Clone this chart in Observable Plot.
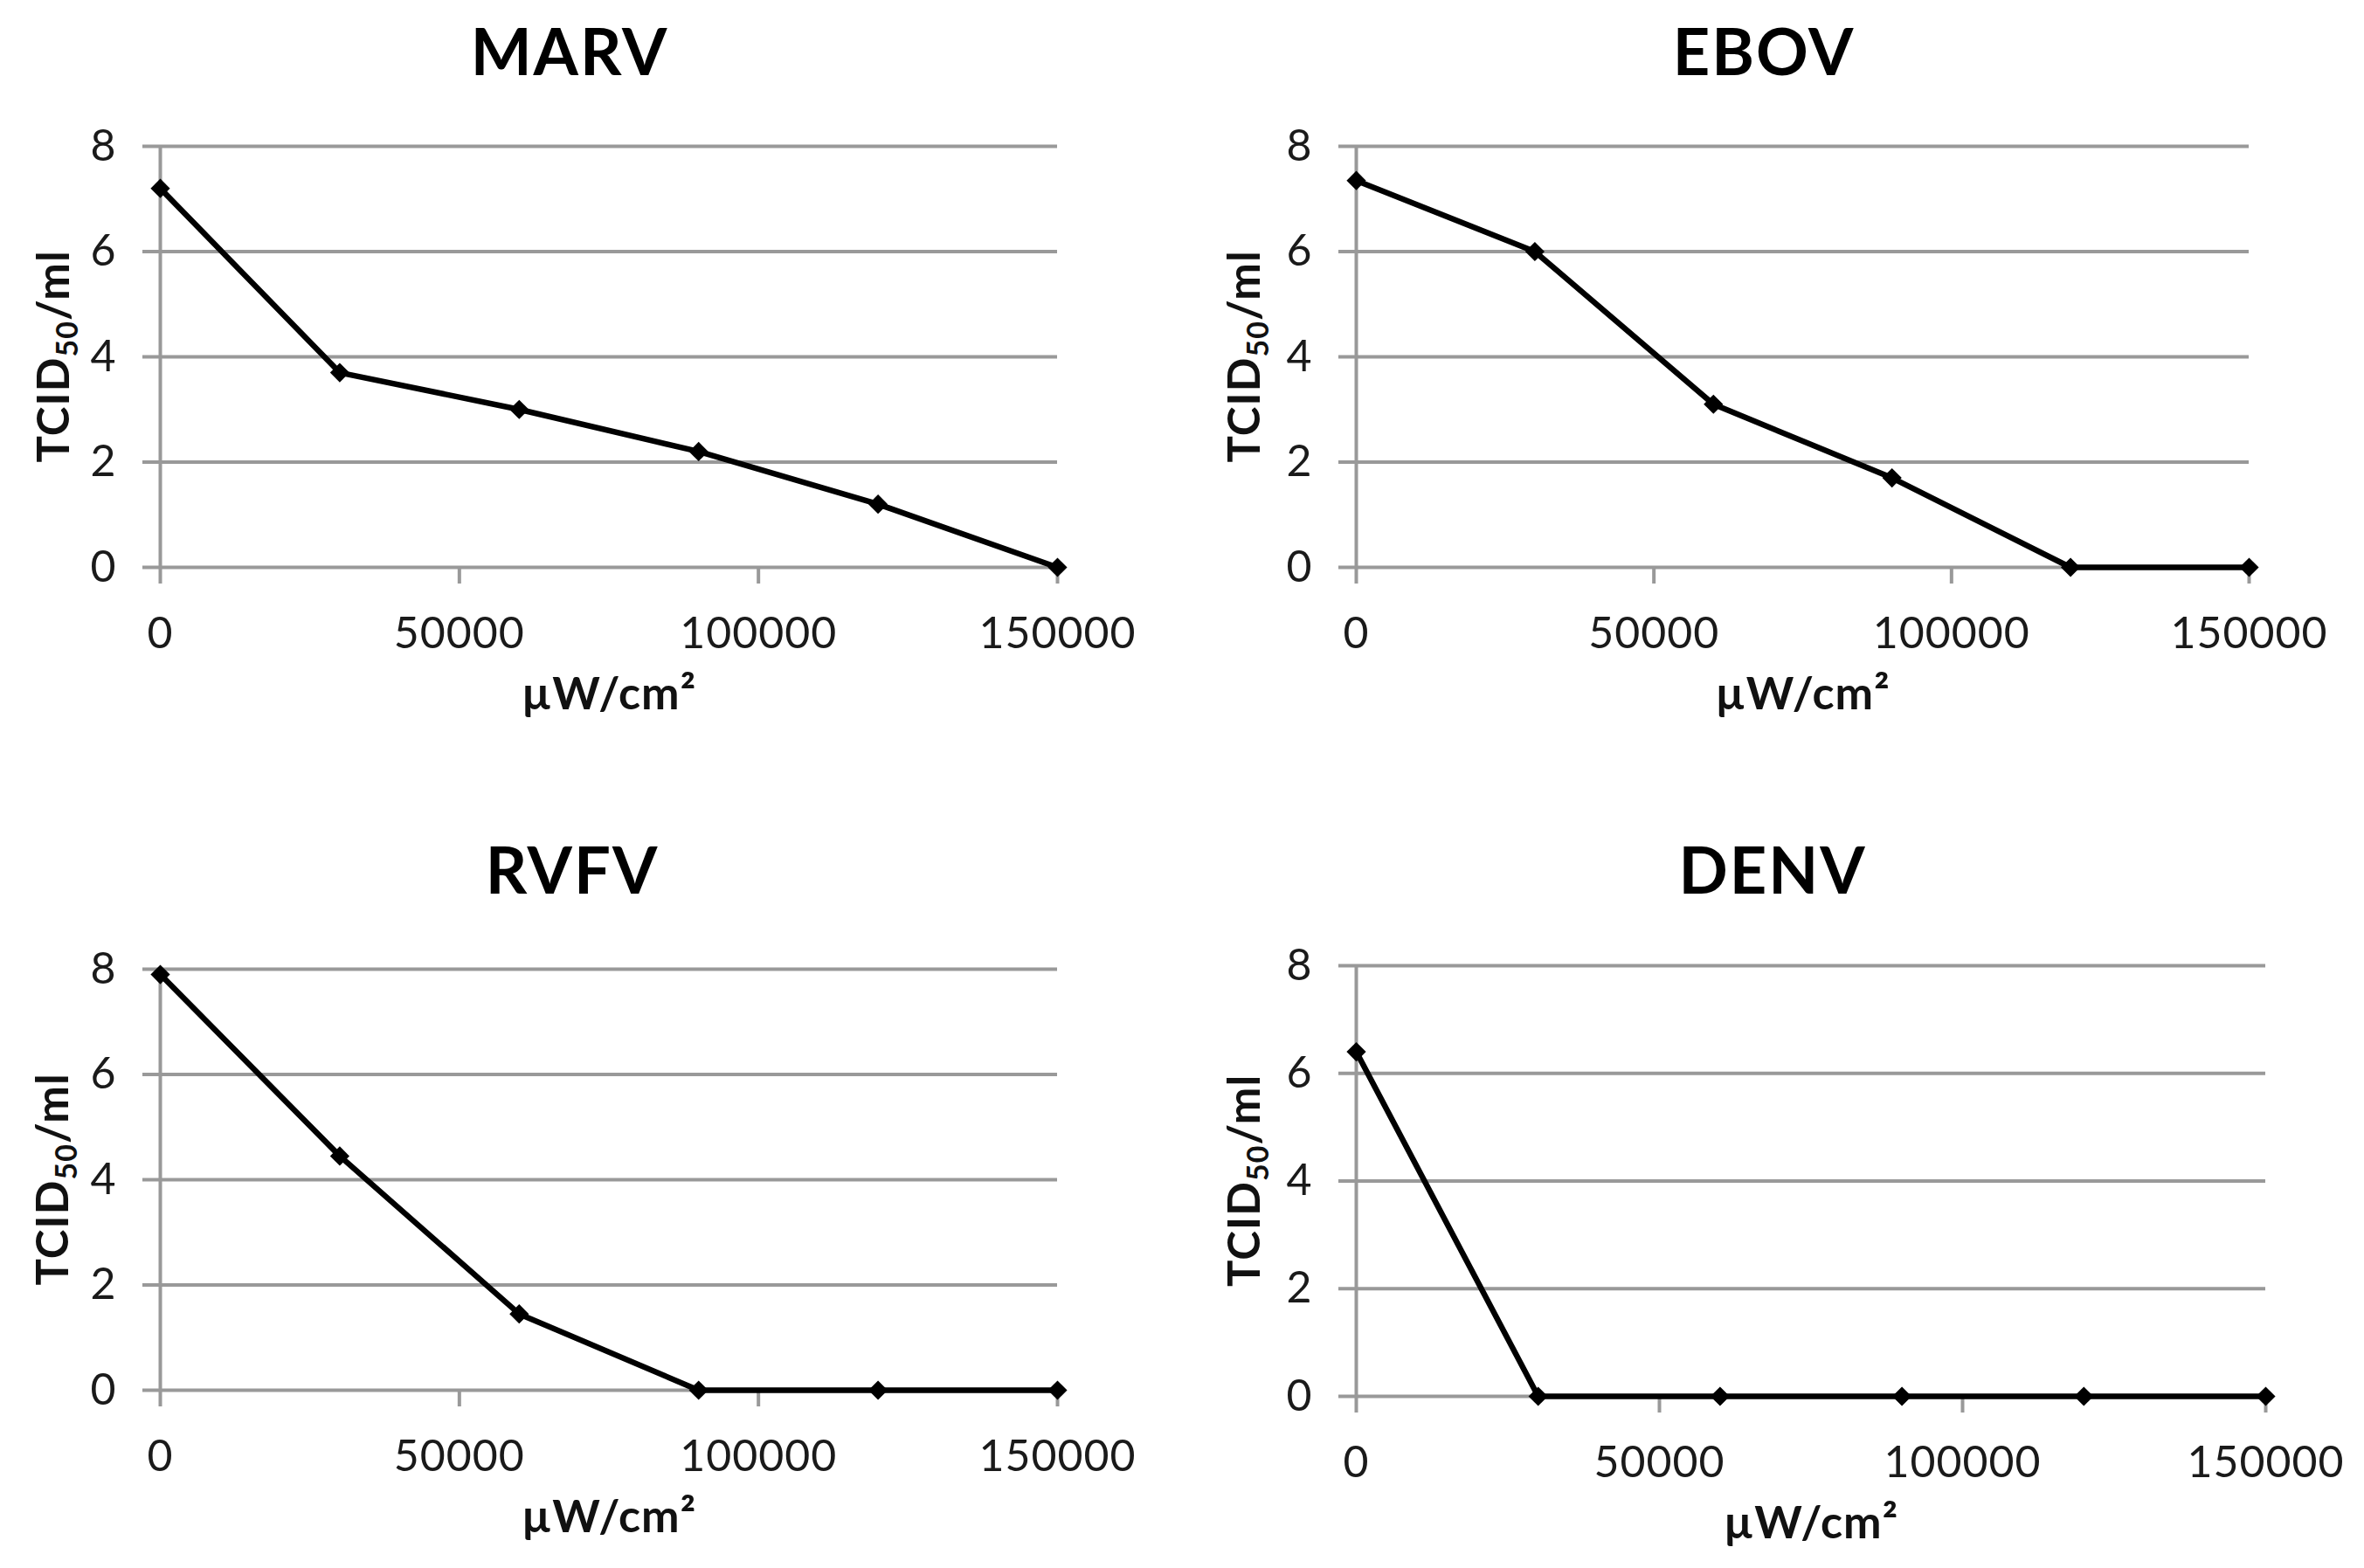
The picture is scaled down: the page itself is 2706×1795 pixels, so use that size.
<!DOCTYPE html>
<html>
<head>
<meta charset="utf-8">
<script src="https://cdn.jsdelivr.net/npm/d3@7"></script>
<script src="https://cdn.jsdelivr.net/npm/@observablehq/plot@0.6"></script>
<style>
  body { margin: 0; background: white; }
  #charts { position: relative; width: 2706px; height: 1795px; background: white; }
  .panel { position: absolute; }
  .title {
    position: absolute;
    transform: translate(-50%, -50%);
    font: bold 74px Lato, sans-serif;
    line-height: 74px;
    letter-spacing: 2px;
    color: #000;
    white-space: nowrap;
  }
</style>
</head>
<body>
<div id="charts"></div>
<script>
// datos
const doses = [0, 30000, 60000, 90000, 120000, 150000]
const marv = [7.2, 3.7, 3.0, 2.2, 1.2, 0]
const ebov = [7.35, 6.0, 3.1, 1.7, 0, 0]
const rvfv = [7.9, 4.45, 1.45, 0, 0, 0]
const denv = [6.4, 0, 0, 0, 0, 0]
const viruses = ["MARV", "EBOV", "RVFV", "DENV"]
const series = [marv, ebov, rvfv, denv]
const yTicks = [0, 2, 4, 6, 8]
const xTicks = [0, 50000, 100000, 150000]
const xLabel = "µW/cm²"

// posicion de cada panel
const layout = [
  {left: 0, top: 0, h: 900, mL: 183, mR: 143, mT: 167, mB: 251, tx: 652, ty: 58, lx: 61},
  {left: 1353, top: 0, h: 900, mL: 199, mR: 132, mT: 167, mB: 251, tx: 666, ty: 58, lx: 71},
  {left: 0, top: 900, h: 895, mL: 183, mR: 143, mT: 209, mB: 204, tx: 655, ty: 95, lx: 60},
  {left: 1353, top: 900, h: 895, mL: 199, mR: 113, mT: 205, mB: 197, tx: 676, ty: 95, lx: 71}
]

const grid = "#999999"

viruses.forEach((name, i) => {
  const L = layout[i]
  const data = doses.map((d, j) => ({dose: d, titer: series[i][j]}))

  let chart = Plot.plot({
    width: 1353,
    height: L.h,
    marginLeft: L.mL,
    marginRight: L.mR,
    marginTop: L.mT,
    marginBottom: L.mB,
    style: {fontFamily: "Lato, sans-serif", fontSize: "50px", color: "#1a1a1a", letterSpacing: "1px", background: "white"},
    x: {domain: [0, 150000]},
    y: {domain: [0, 8]},
    marks: [
      Plot.gridY(yTicks, {stroke: grid, strokeOpacity: 1, strokeWidth: 4}),
      Plot.axisY(yTicks, {tickSize: 20, tickPadding: 30, stroke: grid, strokeWidth: 4, label: null, tickFormat: d => String(d)}),
      Plot.ruleX([0], {stroke: grid, strokeWidth: 4}),
      Plot.axisX(xTicks, {tickSize: 19, tickPadding: 38, stroke: grid, strokeWidth: 4, label: null, tickFormat: d => String(d)}),
      Plot.line(data, {x: "dose", y: "titer", stroke: "black", strokeWidth: 6.5}),
      Plot.dot(data, {x: "dose", y: "titer", symbol: "diamond2", r: 10, fill: "black"}),
      Plot.text([xLabel], {frameAnchor: "bottom", dy: 162, fontWeight: "bold", fontSize: 52, fill: "#111"})
    ]
  })

  // etiqueta Y con subindice
  const plotH = L.h - L.mT - L.mB
  const lab = d3.select(chart).append("text")
    .attr("transform", `translate(${L.lx + 18},${L.mT + plotH / 2}) rotate(-90)`)
    .attr("text-anchor", "middle")
    .attr("font-weight", "bold")
    .attr("font-size", 51)
    .attr("fill", "#111")
  lab.append("tspan").text("TCID")
  lab.append("tspan").attr("font-size", 34).attr("dy", 10).text("50")
  lab.append("tspan").attr("dy", -10).text("/ml")

  const panel = d3.select("#charts").append("div")
    .attr("class", "panel")
    .style("left", L.left + "px")
    .style("top", L.top + "px")
  panel.append(() => chart)
  panel.append("div").attr("class", "title")
    .style("left", L.tx + "px")
    .style("top", L.ty + "px")
    .text(name)
})
</script>
</body>
</html>
